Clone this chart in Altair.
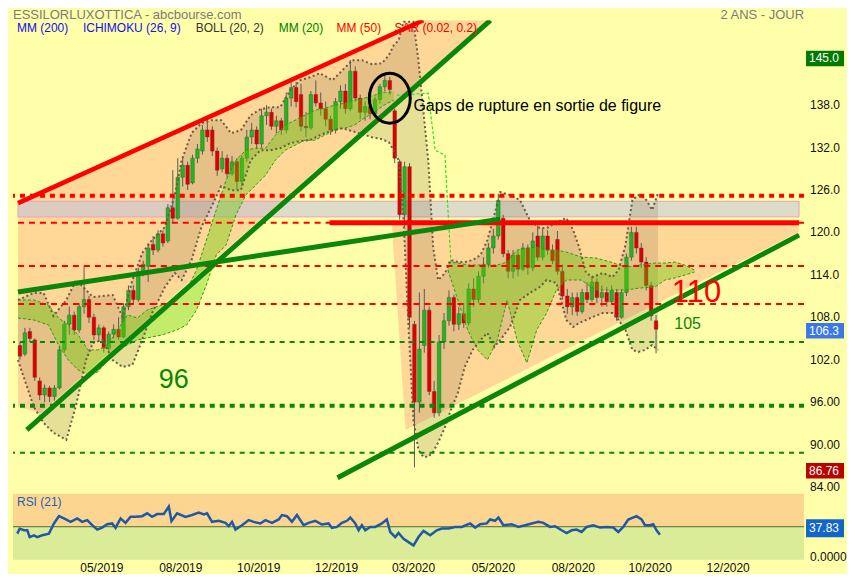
import altair as alt
import pandas as pd

FONT = "Liberation Sans"
BG = "#FFFFAA"
ORANGE = "#FFD796"
DKGREEN = "#0A860A"
RED = "#FF0000"

# ---------------- scales (x = candle index, y = price in EUR) ----------------
x_domain = [-0.4, 158.0]
y_domain = [83.6, 150.0]
rsi_domain = [0, 100]

tick_pos = [17.4, 33.2, 48.8, 64.4, 79.8, 95.8, 111.8, 127.2, 142.8]
tick_lab = ["05/2019", "08/2019", "10/2019", "12/2019", "03/2020",
            "05/2020", "08/2020", "10/2020", "12/2020"]
price_ticks = [84, 90, 96, 102, 108, 114, 120, 126, 132, 138]

# ---------------- candles ----------------
c_open = [104, 102.8, 106, 104.8, 99, 97, 98, 96.8, 98, 103.4,
          107, 108.3, 106.2, 109.5, 110.5, 108, 105.5, 106.5, 103.6, 105.6,
          106.3, 105.2, 109.5, 111.8, 110.5, 114.5, 115.2, 118.3, 117.5, 119.8,
          118.8, 123.5, 122, 127.8, 129.5, 127, 130.5, 131.5, 134.5, 134.5,
          131.5, 129, 130.5, 128.3, 130, 127.2, 130.5, 133.5, 134.5, 132.5,
          136.5, 137, 135, 135.8, 134.5, 139, 140.5, 139.5, 135, 134.8,
          139.5, 138.3, 137.5, 136, 134.5, 138.5, 140, 137.5, 142.8, 139,
          137, 137.8, 136.8, 138.8, 140.6, 141.5, 137.2, 130, 122.5, 129.3,
          107, 96, 104, 109, 97.5, 94.5, 104.5, 107.5, 110.8, 107,
          108.5, 107.2, 112, 110.5, 113.8, 115.5, 117.8, 119.5, 122, 117,
          114.5, 116.8, 114.8, 117.8, 115, 119.5, 116.5, 119.5, 117.5, 119,
          114.5, 111, 109.5, 110.8, 108.8, 111.5, 110.5, 113, 110.8, 111.5,
          110.2, 111.5, 108, 111.5, 116.5, 120, 117.8, 115.8, 112.5, 107.5]
c_high = [104.5, 106.5, 106.5, 105, 99.5, 98.5, 98.3, 98.4, 104, 107.5,
          109.5, 108.8, 110, 115.2, 111, 108.5, 107, 106.8, 106, 107,
          108, 110, 112.5, 112.5, 115, 116, 118.5, 119.5, 120.3, 120.3,
          124, 128.8, 130.5, 130.8, 130, 131, 132.5, 135.2, 136, 135,
          132, 131.5, 131, 130.8, 130.5, 131, 134.5, 135.5, 135, 137.5,
          138, 137.5, 136.5, 136.2, 139.8, 141.5, 141.3, 141, 137, 140,
          141.5, 139.8, 138.5, 136.5, 139, 140.8, 141, 144.4, 143.5, 139.5,
          138.5, 138.2, 139.2, 141, 142.3, 142, 137.5, 130.3, 130, 129.8,
          107.5, 111.5, 112, 109.5, 99, 105.5, 108.6, 111.8, 111.2, 109.5,
          110, 112.8, 113.5, 114.5, 116.5, 118.5, 120.5, 125.5, 122.5, 117.5,
          117.5, 117.5, 118.5, 118.3, 120, 121, 120.5, 120.3, 118.3, 120.2,
          115.5, 112, 111.5, 111.5, 112, 113, 113.8, 113.5, 112.5, 112.3,
          112.5, 112, 112, 117, 120.8, 120.8, 118.5, 116.5, 113, 108.3]
c_low = [102, 102.5, 104.5, 99, 96.3, 96, 96, 96.2, 97.8, 103,
         105.5, 105.5, 105.8, 108.5, 107.2, 104.8, 104.5, 103, 103.2, 105,
         104.8, 105, 109, 110, 110.2, 113.8, 113, 116.8, 117.2, 118,
         118.5, 121.5, 121.8, 126.5, 126, 126.8, 129.8, 131, 132.8, 130.8,
         128, 128.5, 127.8, 128, 126, 126.5, 130, 132.5, 131.8, 132,
         135.2, 134.5, 134, 133.8, 134, 137.8, 137.7, 134.3, 133.5, 134.5,
         137.8, 136.5, 135, 133.8, 134, 137.5, 136.8, 137.2, 138.5, 136,
         135.8, 136, 136.3, 138.2, 140, 139.5, 129.8, 121.8, 120.8, 106.5,
         86.76, 94.5, 103, 97, 93.8, 94, 103.5, 106.8, 106, 106.2,
         106.5, 106.8, 109.5, 110, 112.8, 115, 117, 119, 116.5, 113.5,
         113.5, 113.8, 114.5, 114, 114.5, 116, 116, 116.8, 115.5, 114,
         110.5, 108.5, 108.3, 108.2, 108.5, 110, 110.2, 110, 109.5, 109.5,
         109.8, 107.5, 107.8, 111, 116, 117, 115, 111.8, 107.5, 102.9]
c_close = [102.5, 105.8, 105, 99.5, 97, 98, 96.8, 98, 103.4, 107,
           108.3, 106.2, 109.5, 110.5, 108, 105.5, 106.5, 103.6, 105.6, 106.3,
           105.2, 109.5, 111.8, 110.5, 114.5, 115.5, 117.8, 117.5, 119.8, 118.5,
           123.5, 122, 127.8, 129.5, 126.8, 130.5, 131.8, 134.5, 133.5, 131.5,
           128.8, 130.5, 128.3, 130, 127.2, 130.5, 133.5, 134.5, 132.5, 136.5,
           137, 135, 135.8, 134.5, 139, 140.5, 138.5, 135, 134.8, 139.5,
           138.3, 137.5, 136, 134.5, 138.5, 140, 137.5, 142.8, 139, 137,
           137.8, 136.8, 138.8, 140.6, 141.5, 140.2, 130.5, 122.5, 129.3, 108,
           96, 103.5, 109, 97.5, 94.5, 104.5, 107.5, 110.8, 107, 108.5,
           107.2, 112, 110.5, 113.8, 115.5, 117.8, 119.5, 124.5, 117, 114.5,
           116.8, 114.8, 117.8, 115, 118.8, 116.5, 119.5, 117.5, 116, 114.5,
           111, 109.5, 110.8, 108.8, 111.5, 110.5, 113, 110.8, 111.5, 110.2,
           111.8, 108, 111.5, 116.5, 120, 117.8, 115.8, 112.5, 108.2, 106.3]

# ---------------- Bollinger (20, 2) ----------------
boll_i = [-0.4, 2.8, 4.8, 6.8, 9.4, 11.4, 13.4, 14.8, 16.8, 18.8,
          20.8, 22.8, 24.8, 26.8, 29.4, 31.4, 32.8, 34.8, 36.8, 38.8,
          40.8, 42.8, 44.8, 46.8, 48.8, 50.8, 52.8, 54.8, 56.8, 58.8,
          60.8, 63.4, 65.4, 67.4, 69.4, 71.4, 73.4, 74.8, 75.8, 76.8,
          77.8, 78.8, 79.8, 80.8, 81.8, 82.8, 83.8, 84.8, 86.2, 87.4,
          88.8, 90.2, 91.8, 93.4, 94.8, 96.2, 97.4, 99.4, 101.4, 103.4,
          105.4, 106.8, 108.8, 110.8, 112.2, 113.4, 114.8, 116.2, 118.2, 120.2,
          121.4, 122.8, 124.2, 125.4, 126.8, 128.2, 129.4]
boll_up = [110.44, 111.43, 111.43, 108.18, 110.44, 113.27, 111.85, 110.87, 111.01, 111.15,
           108.04, 113.27, 117.08, 118.92, 120.76, 125.28, 130.22, 134.04, 135.45, 135.87,
           135.87, 134.04, 134.46, 136.58, 137.43, 137.71, 137.71, 140.11, 141.52, 141.95,
           142.51, 141.52, 142.94, 144.35, 144.35, 143.78, 143.92, 145.06, 146.47, 147.17,
           149.8, 149.8, 149.8, 144.35, 137.28, 130.22, 117.93, 113.27, 114.26, 116.09,
           115.81, 115.81, 116.09, 116.80, 118.92, 122.45, 125.70, 125.28, 124.57, 121.74,
           120.61, 120.61, 121.46, 122.03, 120.33, 117.93, 114.26, 113.69, 114.26, 113.69,
           114.68, 118.21, 124.57, 125.28, 124.85, 123.16, 125.56]
boll_lo = [101.96, 95.32, 93.06, 91.65, 90.66, 95.61, 101.96, 104.37, 104.79, 101.96,
           100.98, 101.26, 104.79, 108.60, 112.28, 114.26, 113.27, 116.09, 120.76, 123.58,
           126.55, 125.98, 125.98, 130.22, 131.63, 131.63, 131.92, 132.62, 132.91, 133.05,
           133.75, 134.46, 134.74, 134.32, 133.89, 133.47, 133.19, 132.76, 131.63, 130.22,
           121.74, 106.63, 93.49, 89.25, 88.26, 88.26, 88.97, 90.24, 92.50, 94.90,
           97.30, 100.98, 103.38, 104.79, 105.78, 103.80, 104.79, 106.63, 110.44, 111.43,
           112.28, 113.27, 112.84, 107.61, 106.63, 107.19, 107.61, 108.04, 108.60, 108.60,
           107.61, 106.20, 103.38, 103.10, 103.38, 104.08, 103.38]

# ---------------- Ichimoku cloud (26, 9) ----------------
kumo1_i = [-0.4, 2.8, 5.8, 7.8, 9.8, 11.8, 13.8, 15.8, 17.8, 19.8,
           21.8, 23.8, 25.8, 28.8, 31.8, 33.8, 35.8, 37.8, 39.8, 41.8,
           43.8, 45.8, 47.8, 49.8, 51.8, 53.8, 55.8, 57.8, 59.8, 61.8,
           63.8, 65.8, 67.8, 69.8, 71.8, 73.8, 75.8]
kumo1_a = [110.44, 110.44, 109.74, 107.90, 106.91, 105.50, 103.38, 103.38, 104.08, 106.20,
           108.32, 107.90, 109.03, 109.74, 110.44, 111.85, 114.68, 118.92, 123.16, 127.39,
           130.22, 131.63, 131.92, 131.92, 133.75, 135.17, 135.87, 136.58, 137.28, 137.57,
           137.99, 138.27, 138.70, 138.98, 139.40, 139.83, 139.83]
kumo1_b = [107.90, 107.61, 106.91, 104.08, 101.96, 100.55, 99.85, 100.27, 101.96, 103.38,
           104.08, 104.79, 105.07, 105.50, 106.20, 106.91, 109.03, 112.56, 116.80, 118.21,
           122.45, 125.28, 126.69, 128.10, 130.22, 131.63, 132.34, 133.05, 133.05, 133.75,
           134.46, 134.74, 135.17, 136.15, 137.00, 137.99, 138.70]
kumo2_i = [86.8, 88.8, 90.8, 92.8, 94.8, 96.8, 98.8, 100.8, 102.8, 104.8,
           106.8, 108.8, 110.8, 113.8, 116.8, 119.8, 122.8, 125.8, 128.8, 130.8,
           132.8, 134.8, 136.8]
kumo2_a = [115.81, 115.67, 115.39, 115.39, 115.39, 115.39, 115.81, 117.50, 117.79, 117.93,
           117.50, 117.50, 117.22, 116.52, 116.38, 115.81, 115.10, 115.39, 115.67, 115.67,
           115.81, 115.39, 114.68]
kumo2_b = [114.68, 110.44, 106.20, 103.38, 101.96, 104.79, 110.44, 104.79, 101.54, 106.20,
           108.60, 111.85, 113.27, 113.27, 111.85, 111.85, 111.85, 112.14, 112.28, 113.27,
           113.55, 113.97, 114.40]
kijun_i = [76.4, 82.8, 84.2, 86.2, 86.6, 87.4]
kijun_v = [139.40, 139.69, 131.63, 130.93, 125.56, 115.81]

# ---------------- drawn figures ----------------
wedge_i = [-0.4, 4.2, 81.8, 94.8]
wedge_top = [124.15, 125.59, 150.0, 150.0]
wedge_bot = [95.32, 94.48, 142.09, 150.0]
tri_i = [75.4, 78.2, 158.0]
tri_top = [121.4, 121.4, 121.4]
tri_bot = [121.4, 92.07, 120.05]

resist_i = [-0.4, 81.8]
resist_v = [124.15, 150.0]
support1_i = [1.4, 95.4]
support1_v = [92.07, 150.0]
neck_i = [-0.4, 97.4]
neck_v = [111.57, 121.88]
support2_i = [64.4, 158.0]
support2_v = [85.29, 119.62]
red_solid_i = [62.8, 158.0]
red_solid_v = [121.36, 121.36]

gap_zone = [122.2, 124.4]
red_dotted_levels = [125.18]
red_dashed_levels = [121.36, 115.24, 109.88]
green_dashed_levels = [104.51, 88.82]
green_dotted_levels = [95.47]

# ---------------- RSI (21) ----------------
rsi_i = [0.46, 0.94, 1.8, 2.46, 2.94, 3.8, 4.46, 5.46, 6.8, 7.8,
         8.8, 9.8, 11.14, 12.46, 13.46, 14.46, 15.46, 16.46, 17.46, 18.46,
         19.46, 20.14, 21.14, 22.14, 23.14, 24.14, 25.46, 26.46, 27.46, 28.46,
         29.8, 30.8, 31.34, 32.46, 34.14, 35.46, 36.8, 37.8, 38.46, 39.46,
         40.8, 42.14, 42.8, 43.46, 44.14, 45.46, 46.8, 47.8, 49.14, 50.14,
         51.46, 52.8, 53.46, 54.46, 55.46, 56.46, 57.8, 58.8, 60.14, 61.46,
         62.8, 63.46, 64.46, 65.46, 66.46, 67.14, 68.14, 68.8, 69.46, 70.14,
         71.14, 72.14, 73.46, 74.46, 75.14, 76.14, 76.8, 77.8, 78.8, 79.8,
         80.8, 81.8, 83.14, 84.46, 85.46, 86.8, 88.14, 89.46, 91.14, 92.14,
         93.14, 94.46, 95.14, 96.14, 96.8, 97.8, 99.46, 100.8, 102.14, 103.46,
         104.8, 105.8, 107.14, 108.14, 109.46, 110.46, 111.46, 112.46, 113.46, 114.46,
         115.8, 117.14, 118.46, 119.8, 120.8, 121.8, 122.8, 124.46, 125.46, 126.14,
         127.14, 127.8, 128.46, 129.14]
rsi_v = [39.5, 47, 44.6, 44.6, 34.3, 36.9, 34.3, 37, 39.5, 55,
         66, 62.6, 57.4, 62.6, 57.4, 60, 52.3, 45.7, 48.7, 53.8,
         55, 48.2, 62.6, 55.8, 65, 65, 66, 70.3, 65, 69.2,
         69.2, 80.5, 58.5, 70.3, 65, 67.7, 71.3, 68.8, 70.3, 57.4,
         59, 55.8, 50.8, 57.4, 45.7, 52.3, 60, 57.4, 55, 60,
         55.8, 61, 67.7, 66, 57.4, 67.7, 52.3, 55.8, 59, 53.4,
         55, 48.2, 49.7, 55.8, 59, 64, 55, 44.6, 52.3, 44.6,
         49.7, 49.7, 55, 61, 42, 34.3, 40.5, 31.8, 26.6, 21.5,
         34.3, 43.6, 37, 44.6, 47.2, 47.2, 49.7, 49.7, 55, 48.7,
         53.8, 55, 61, 59, 64, 52.3, 53.8, 49.7, 52.3, 55,
         57.4, 55.8, 49.7, 50.8, 44.6, 40.5, 44.6, 45.7, 42, 49.7,
         52.3, 48.7, 49.7, 48.7, 42, 49.7, 61, 66, 61, 52.3,
         52.3, 53.8, 44.6, 37.83]

# value flags on the right edge
flag_text = ["145.0", "106.3", "86.76"]
flag_value = [144.6, 106.1, 86.3]
flag_color = ["#007A00", "#3A78E8", "#BB0000"]
rsi_flag_text = ["37.83"]
rsi_flag_value = [47.7]

# ---------------- chart ----------------
W, H, HR = 792, 470, 66
xs = alt.Scale(domain=x_domain, nice=False, zero=False)
ys = alt.Scale(domain=y_domain, nice=False, zero=False)
rs = alt.Scale(domain=rsi_domain, nice=False, zero=False)


def xq(f):
    return alt.X(f"{f}:Q", scale=xs, axis=None)


def yq(f):
    return alt.Y(f"{f}:Q", scale=ys, axis=None)


def ry(f):
    return alt.Y(f"{f}:Q", scale=rs, axis=None)


layers = []

wedge = pd.DataFrame({"i": wedge_i, "top": wedge_top, "bot": wedge_bot})
layers.append(alt.Chart(wedge).mark_area(color=ORANGE, clip=True).encode(
    x=xq("i"), y=yq("top"), y2="bot:Q"))
tri = pd.DataFrame({"i": tri_i, "top": tri_top, "bot": tri_bot})
layers.append(alt.Chart(tri).mark_area(color=ORANGE, clip=True).encode(
    x=xq("i"), y=yq("top"), y2="bot:Q"))

zone = pd.DataFrame({"x0": [x_domain[0]], "x1": [x_domain[1]],
                     "lo": [gap_zone[0]], "hi": [gap_zone[1]]})
layers.append(alt.Chart(zone).mark_rect(fill="#C4C4DC", fillOpacity=0.6, clip=True,
                                        stroke="#E8A0C8", strokeWidth=1).encode(
    x=xq("x0"), x2="x1:Q", y=yq("hi"), y2="lo:Q"))

boll = pd.DataFrame({"i": boll_i, "up": boll_up, "lo": boll_lo})
layers.append(alt.Chart(boll).mark_area(color="#8A7050", opacity=0.22, clip=True).encode(
    x=xq("i"), y=yq("up"), y2="lo:Q"))

candles = pd.DataFrame({"i": list(range(len(c_open))), "open": c_open, "high": c_high,
                        "low": c_low, "close": c_close})
up = candles[candles["close"] >= candles["open"]]
down = candles[candles["close"] < candles["open"]]
layers.append(alt.Chart(candles).mark_rule(color="#5A5A5A", strokeWidth=1, clip=True).encode(
    x=xq("i"), y=yq("low"), y2="high:Q"))
layers.append(alt.Chart(up).mark_bar(width=3.6, clip=True, color="#22B422", stroke="#2A5A2A",
                                     strokeWidth=0.4).encode(
    x=xq("i"), y=yq("open"), y2="close:Q"))
layers.append(alt.Chart(down).mark_bar(width=3.6, clip=True, color="#E00000", stroke="#6A2A2A",
                                       strokeWidth=0.4).encode(
    x=xq("i"), y=yq("open"), y2="close:Q"))

for ki, ka, kb in [(kumo1_i, kumo1_a, kumo1_b), (kumo2_i, kumo2_a, kumo2_b)]:
    k = pd.DataFrame({"i": ki, "a": ka, "b": kb})
    layers.append(alt.Chart(k).mark_area(color="#5FCC00", opacity=0.38, clip=True).encode(
        x=xq("i"), y=yq("a"), y2="b:Q"))
    for f in ["a", "b"]:
        layers.append(alt.Chart(k).mark_line(color="#2E9A10", strokeWidth=1,
                                             strokeDash=[3, 2], clip=True).encode(
            x=xq("i"), y=yq(f)))

kij = pd.DataFrame({"i": kijun_i, "v": kijun_v})
layers.append(alt.Chart(kij).mark_line(color="#33DD22", strokeWidth=1.2,
                                       strokeDash=[3, 2], clip=True).encode(
    x=xq("i"), y=yq("v")))

for f in ["up", "lo"]:
    layers.append(alt.Chart(boll).mark_line(color="#6B5A48", strokeWidth=2, strokeCap="butt",
                                            strokeDash=[2, 2.6], clip=True).encode(
        x=xq("i"), y=yq(f)))


def hrules(vals, color, width, dash):
    return alt.Chart(pd.DataFrame({"v": vals})).mark_rule(
        color=color, strokeWidth=width, strokeDash=dash, strokeCap="butt", clip=True).encode(
        y=yq("v"))


layers.append(hrules(red_dashed_levels, RED, 2, [6, 5]))
layers.append(hrules(red_dotted_levels, RED, 4, [5, 5]))
layers.append(hrules(green_dashed_levels, DKGREEN, 2, [5, 5]))
layers.append(hrules(green_dotted_levels, DKGREEN, 4, [5, 5]))


def seg(xv, yv, color, width):
    return alt.Chart(pd.DataFrame({"i": xv, "v": yv})).mark_line(
        color=color, strokeWidth=width, clip=True).encode(x=xq("i"), y=yq("v"))


layers.append(seg(red_solid_i, red_solid_v, RED, 5))
layers.append(seg(resist_i, resist_v, RED, 4.5))
layers.append(seg(support1_i, support1_v, DKGREEN, 5))
layers.append(seg(neck_i, neck_v, DKGREEN, 5))
layers.append(seg(support2_i, support2_v, DKGREEN, 5))


def note(txt, i, v, color, size, align="center"):
    return alt.Chart(pd.DataFrame({"i": [i], "v": [v], "t": [txt]})).mark_text(
        color=color, fontSize=size, font=FONT, align=align, baseline="middle").encode(
        x=xq("i"), y=yq("v"), text="t:N")


layers.append(note("96", 31.2, 99.14, DKGREEN, 27))
layers.append(note("110", 137.2, 111.43, RED, 31))
layers.append(note("105", 135.4, 107.05, DKGREEN, 16))
layers.append(note("Gaps de rupture en sortie de figure", 79.8, 137.85, "#000000", 16, "left"))

ellipse = ("M 0 -1 C 0.453 -1 0.82 -0.552 0.82 0 C 0.82 0.552 0.453 1 0 1 "
           "C -0.453 1 -0.82 0.552 -0.82 0 C -0.82 -0.552 -0.453 -1 0 -1 Z")
layers.append(alt.Chart(pd.DataFrame({"i": [75.0], "v": [138.98]})).mark_point(
    shape=ellipse, size=2500, filled=False, stroke="#000000", strokeWidth=3,
    opacity=1).encode(x=xq("i"), y=yq("v")))

# right-hand price labels
plab = pd.DataFrame({"v": price_ticks})
plab["t"] = [f"{v:.1f}" if v >= 100 else f"{v:.2f}" for v in price_ticks]
layers.append(alt.Chart(plab).mark_text(color="#111111", font=FONT, fontSize=12,
                                        align="left", baseline="middle").encode(
    x=alt.value(W + 6), y=yq("v"), text="t:N"))

# right-edge value flags
flags = pd.DataFrame({"t": flag_text, "v": flag_value, "c": flag_color})
flags["hi"] = flags["v"] + 1.1
flags["lo"] = flags["v"] - 1.1
layers.append(alt.Chart(flags).mark_rect().encode(
    x=alt.value(W + 2), x2=alt.value(W + 40), y=yq("hi"), y2="lo:Q",
    color=alt.Color("c:N", scale=None)))
layers.append(alt.Chart(flags).mark_text(color="white", font=FONT, fontSize=12,
                                         align="left", baseline="middle").encode(
    x=alt.value(W + 5), y=yq("v"), text="t:N"))


def hdr(txt, px, py, color, size, align="left"):
    return alt.Chart(pd.DataFrame({"t": [txt]})).mark_text(
        color=color, fontSize=size, font=FONT, align=align, baseline="middle").encode(
        x=alt.value(px), y=alt.value(py), text="t:N")


layers.append(hdr("ESSILORLUXOTTICA - abcbourse.com", 0, -5.5, "#7A7A7A", 13))
layers.append(hdr("2 ANS - JOUR", 792, -5.5, "#7A7A7A", 13, "right"))
layers.append(hdr("MM (200)", 4, 8, "#1010F0", 12))
layers.append(hdr("ICHIMOKU (26, 9)", 70, 8, "#1010F0", 12))
layers.append(hdr("BOLL (20, 2)", 183, 8, "#333333", 12))
layers.append(hdr("MM (20)", 266, 8, "#008000", 12))
layers.append(hdr("MM (50)", 324, 8, "#FF0000", 12))
layers.append(hdr("SAR (0.02, 0.2)", 382, 8, "#EE0000", 12))

main = alt.layer(*layers).properties(width=W, height=H)

# ---------------- RSI panel ----------------
r_layers = []
for lo, hi, col in [(50, 100, "#FCD690"), (0, 50, "#DAEC97")]:
    rz = pd.DataFrame({"x0": [x_domain[0]], "x1": [x_domain[1]], "lo": [lo], "hi": [hi]})
    r_layers.append(alt.Chart(rz).mark_rect(color=col).encode(
        x=xq("x0"), x2="x1:Q", y=ry("hi"), y2="lo:Q"))
r_layers.append(alt.Chart(pd.DataFrame({"v": [50]})).mark_rule(
    color="#4A6A30", strokeWidth=1).encode(y=ry("v")))
r_layers.append(alt.Chart(pd.DataFrame({"i": rsi_i, "v": rsi_v})).mark_line(
    color="#2058A8", strokeWidth=2.5).encode(x=xq("i"), y=ry("v")))

rflag = pd.DataFrame({"t": rsi_flag_text, "v": rsi_flag_value})
rflag["hi"] = rflag["v"] + 13.5
rflag["lo"] = rflag["v"] - 13.5
r_layers.append(alt.Chart(rflag).mark_rect(color="#1166CC").encode(
    x=alt.value(W + 2), x2=alt.value(W + 40), y=ry("hi"), y2="lo:Q"))
r_layers.append(alt.Chart(rflag).mark_text(color="white", font=FONT, fontSize=12,
                                           align="left", baseline="middle").encode(
    x=alt.value(W + 5), y=ry("v"), text="t:N"))
r_layers.append(alt.Chart(pd.DataFrame({"v": [0], "t": ["0.0000"]})).mark_text(
    color="#111111", font=FONT, fontSize=12, align="left", baseline="middle", dy=-3).encode(
    x=alt.value(W + 6), y=ry("v"), text="t:N"))
xl = pd.DataFrame({"i": tick_pos, "t": tick_lab})
r_layers.append(alt.Chart(xl).mark_text(color="#111111", font=FONT, fontSize=12,
                                        align="center", baseline="top").encode(
    x=xq("i"), y=alt.value(HR + 3), text="t:N"))
r_layers.append(hdr("RSI (21)", 4, 8, "#1F5FB0", 12))

rsi = alt.layer(*r_layers).properties(width=W, height=HR)

chart = alt.vconcat(main, rsi, spacing=0).properties(
    background=BG, padding={"left": 4, "top": 0, "right": 0, "bottom": 0}
).configure_view(strokeWidth=0)

chart.save("out.html", embed_options={"renderer": "svg", "actions": False})
